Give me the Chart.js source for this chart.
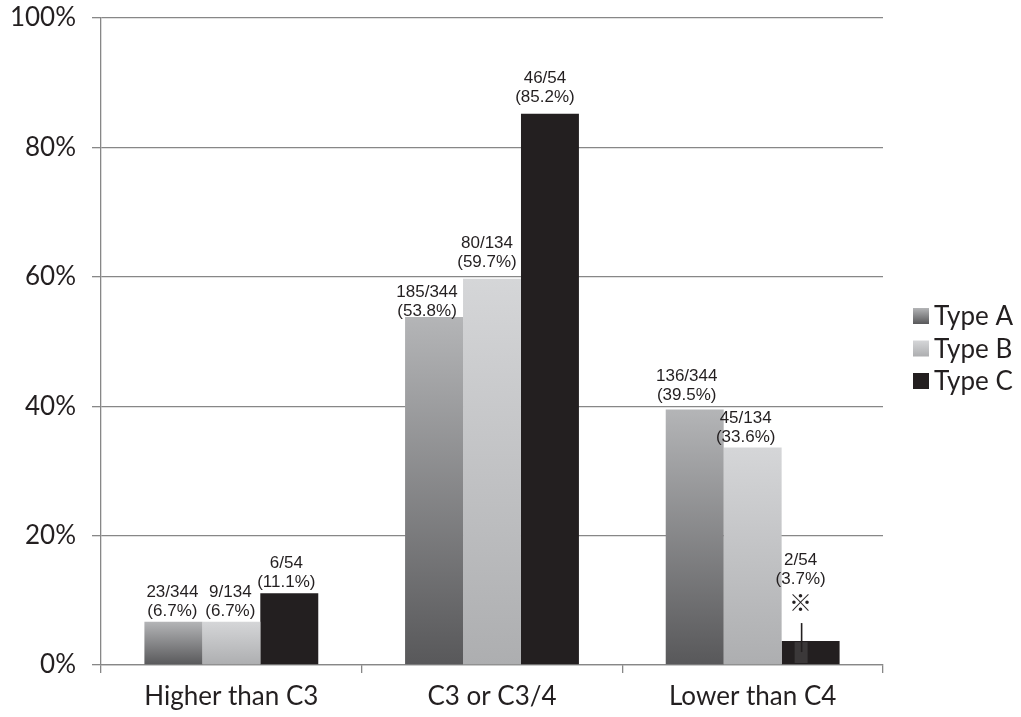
<!DOCTYPE html>
<html>
<head>
<meta charset="utf-8">
<script src="https://cdn.jsdelivr.net/npm/chart.js@4"></script>
<style>
  html, body { margin: 0; padding: 0; background: #ffffff; }
  #wrap { width: 1021px; height: 717px; }
</style>
</head>
<body>
<div id="wrap"><canvas id="chart" width="1021" height="717"></canvas></div>
<script>
// Grade categories on the x axis
const categories = ['Higher than C3', 'C3 or C3/4', 'Lower than C4'];

// Group sizes for each type
const typeTotals = [344, 134, 54];

// Patient counts per category
const typeACounts = [23, 185, 136];
const typeBCounts = [9, 80, 45];
const typeCCounts = [6, 46, 2];

// Percentages per category (as printed on the labels)
const typeAPct = [6.7, 53.8, 39.5];
const typeBPct = [6.7, 59.7, 33.6];
const typeCPct = [11.1, 85.2, 3.7];

const seriesNames = ['Type A', 'Type B', 'Type C'];
const seriesCounts = [typeACounts, typeBCounts, typeCCounts];

// Axis ticks
const yTicks = [0, 20, 40, 60, 80, 100];

// Fill shades: [top, bottom]
const shades = [
  ['#b4b5b7', '#58585a'],
  ['#d5d6d8', '#adaeb0'],
  ['#231f20', '#231f20']
];

const INK = '#231f20';
const RULE = '#878787';

// Vertical gradient spanning each bar from its top down to the baseline
function barFill(di) {
  return (ctx) => {
    const chart = ctx.chart;
    const y = chart.scales.y;
    if (!y || ctx.raw == null) return shades[di][0];
    const top = y.getPixelForValue(ctx.raw);
    const base = y.getPixelForValue(0);
    if (!isFinite(top) || !isFinite(base) || top === base) return shades[di][0];
    const g = chart.ctx.createLinearGradient(0, top, 0, base);
    g.addColorStop(0, shades[di][0]);
    g.addColorStop(1, shades[di][1]);
    return g;
  };
}

// "n/total" above "(p%)" over every bar; nudges are [dx, gap above bar top]
const barLabels = {
  id: 'barLabels',
  afterDatasetsDraw(chart, args, opts) {
    const { ctx } = chart;
    ctx.save();
    ctx.font = '17px "Liberation Sans", Arial, sans-serif';
    ctx.fillStyle = INK;
    ctx.textAlign = 'center';
    ctx.textBaseline = 'alphabetic';
    chart.data.datasets.forEach((ds, di) => {
      const meta = chart.getDatasetMeta(di);
      meta.data.forEach((bar, i) => {
        const [dx, gap] = opts.nudge[di][i];
        const x = bar.x + dx;
        const yLow = bar.y - gap;
        ctx.fillText('(' + ds.data[i].toFixed(1) + '%)', x, yLow);
        ctx.fillText(seriesCounts[di][i] + '/' + typeTotals[di], x, yLow - opts.lineGap);
      });
    });

    // Reference mark on the Type C bar of the last category
    const bar = chart.getDatasetMeta(2).data[2];
    if (bar) {
      ctx.fillStyle = '#3b3839';
      ctx.fillRect(bar.x - 16, bar.y + 1, 13, 21);
      ctx.strokeStyle = INK;
      ctx.lineWidth = 1.6;
      ctx.beginPath();
      ctx.moveTo(bar.x - 9, bar.y - 18);
      ctx.lineTo(bar.x - 9, bar.y + 11);
      ctx.stroke();
      ctx.fillStyle = INK;
      ctx.font = '23px "Noto Sans CJK JP", "DejaVu Sans", sans-serif';
      ctx.textBaseline = 'middle';
      ctx.fillText('\u203B', bar.x - 10, bar.y - 39);
    }
    ctx.restore();
  }
};

// Legend column on the right with shaded keys
const sideLegend = {
  id: 'sideLegend',
  afterDraw(chart, args, opts) {
    const { ctx, chartArea } = chart;
    const cy = (chartArea.top + chartArea.bottom) / 2 + opts.shiftY;
    ctx.save();
    ctx.font = opts.font;
    ctx.textBaseline = 'middle';
    ctx.textAlign = 'left';
    chart.data.datasets.forEach((ds, di) => {
      const rowY = cy + (di - 1) * opts.rowGap;
      const bx = chartArea.right + opts.boxOffset;
      const s = opts.boxSize;
      const g = ctx.createLinearGradient(0, rowY - s / 2, 0, rowY + s / 2);
      g.addColorStop(0, shades[di][0]);
      g.addColorStop(1, shades[di][1]);
      ctx.fillStyle = g;
      ctx.fillRect(bx, rowY - s / 2, s, s);
      ctx.fillStyle = INK;
      ctx.fillText(ds.label, bx + s + opts.textGap, rowY + 1);
    });
    ctx.restore();
  }
};

Chart.defaults.font.family = 'Lato, "Open Sans", sans-serif';
Chart.defaults.color = INK;

new Chart(document.getElementById('chart'), {
  type: 'bar',
  data: {
    labels: categories,
    datasets: [
      { label: seriesNames[0], data: typeAPct, backgroundColor: barFill(0) },
      { label: seriesNames[1], data: typeBPct, backgroundColor: barFill(1) },
      { label: seriesNames[2], data: typeCPct, backgroundColor: barFill(2) }
    ]
  },
  options: {
    responsive: false,
    animation: false,
    devicePixelRatio: 1,
    layout: { padding: { top: 18, right: 138, left: 0, bottom: 0 } },
    datasets: {
      bar: { categoryPercentage: 0.667, barPercentage: 1.0, borderWidth: 0 }
    },
    scales: {
      x: {
        grid: {
          display: true, drawOnChartArea: false, drawTicks: true,
          tickLength: 8, color: RULE, lineWidth: 1.3, offset: true
        },
        border: { display: true, color: RULE, width: 1.3 },
        ticks: { font: { size: 26 }, color: INK, padding: 8, maxRotation: 0 },
        afterFit(scale) { scale.height = 52; }
      },
      y: {
        min: 0, max: 100,
        afterBuildTicks(scale) { scale.ticks = yTicks.map(v => ({ value: v })); },
        grid: { color: RULE, lineWidth: 1.3, tickLength: 9 },
        border: { display: true, color: RULE, width: 1.3 },
        ticks: {
          font: { size: 26 }, color: INK, padding: 16,
          callback: (v) => v + '%'
        },
        afterFit(scale) { scale.width = 101; scale.paddingTop = 0; scale.paddingBottom = 0; }
      }
    },
    plugins: {
      legend: { display: false },
      tooltip: { enabled: false },
      barLabels: {
        lineGap: 19,
        nudge: [
          [[-1, 6], [-7, 1], [-8, 9]],
          [[-1, 6], [-5, 12], [-7, 6]],
          [[-3, 6], [-5, 12], [-10, 57]]
        ]
      },
      sideLegend: {
        font: '26px Lato, "Open Sans", sans-serif',
        shiftY: 7, rowGap: 32.5, boxOffset: 30, boxSize: 16, textGap: 5
      }
    }
  },
  plugins: [barLabels, sideLegend]
});
</script>
</body>
</html>
